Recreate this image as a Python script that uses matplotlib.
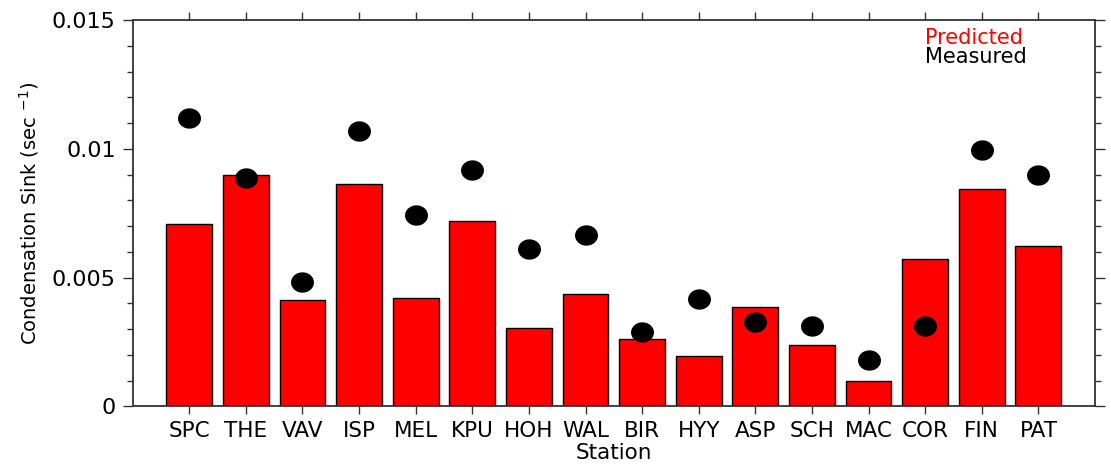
import matplotlib
matplotlib.use("Agg")
import matplotlib.pyplot as plt
import numpy as np
from matplotlib.ticker import MultipleLocator
from matplotlib.path import Path

plt.rcParams["font.family"] = ["DejaVu Sans"]
plt.rcParams["mathtext.fontset"] = "dejavusans"

# ---------------------------------------------------------------- data
stations  = ["SPC", "THE", "VAV", "ISP", "MEL", "KPU", "HOH", "WAL",
             "BIR", "HYY", "ASP", "SCH", "MAC", "COR", "FIN", "PAT"]
predicted = [0.00707, 0.00897, 0.00413, 0.00862, 0.00422, 0.00721, 0.00303, 0.00436,
             0.00261, 0.00194, 0.00384, 0.00237, 0.00098, 0.00573, 0.00844, 0.00622]
measured  = [0.01121, 0.00888, 0.00484, 0.01068, 0.00744, 0.00916, 0.00612, 0.00664,
             0.00290, 0.00417, 0.00326, 0.00313, 0.00180, 0.00313, 0.00996, 0.00897]

# slightly flattened dot, as in the original
t = np.linspace(0, 2 * np.pi, 60)
dot = Path(np.column_stack([np.cos(t), 0.88 * np.sin(t)]), closed=True)

# ---------------------------------------------------------------- plot
fig = plt.figure(figsize=(11.11, 4.74), dpi=100)
ax = fig.add_axes([0.1194, 0.1428, 0.9856 - 0.1194, 0.9578 - 0.1428])

x = np.arange(len(stations))
ax.bar(x, predicted, width=0.81, color="#ff0000", edgecolor="black", linewidth=1.0, zorder=2)
ax.plot(x, measured, linestyle="none", marker=dot, ms=15.5, color="black", zorder=3)

ax.set_xlim(-1, len(stations))
ax.set_ylim(0, 0.015)
ax.set_xticks(x)
ax.set_xticklabels(stations, fontsize=15.5)
ax.set_yticks([0, 0.005, 0.01, 0.015])
ax.set_yticklabels(["0", "0.005", "0.01", "0.015"], fontsize=16)
ax.yaxis.set_minor_locator(MultipleLocator(0.001))

ax.tick_params(axis="x", which="major", direction="out", length=5.8, width=1.0,
               top=True, bottom=True, pad=5, color="#333333")
ax.tick_params(axis="y", which="major", direction="out", length=7.2, width=1.0,
               left=True, right=True, pad=5, color="#333333")
ax.tick_params(axis="y", which="minor", direction="out", length=4.3, width=1.0,
               left=True, right=True, color="#333333")
for s in ax.spines.values():
    s.set_linewidth(1.3); s.set_color("#333333")

ax.set_xlabel("Station", fontsize=15.5, labelpad=1)
ax.set_ylabel("Condensation Sink (sec $^{-1}$)", fontsize=14, labelpad=8)

ax.text(0.823, 0.953, "Predicted", color="#ff0000", fontsize=15,
        transform=ax.transAxes, va="center", ha="left")
ax.text(0.823, 0.903, "Measured", color="black", fontsize=15,
        transform=ax.transAxes, va="center", ha="left")

fig.savefig("out.png", dpi=100)
